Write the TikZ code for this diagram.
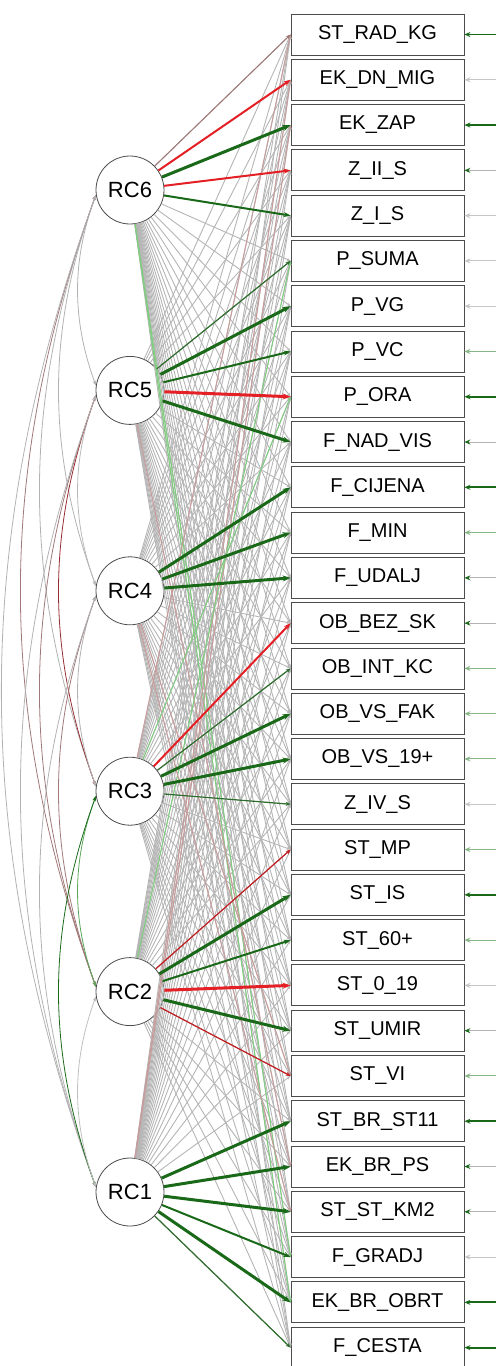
\documentclass[tikz,border=0pt]{standalone}
\usepackage{fontspec}
\setmainfont{Liberation Sans}
\usetikzlibrary{arrows.meta}

\definecolor{ldgreen}{RGB}{25,105,25}
\definecolor{ldred}{RGB}{228,32,38}
\definecolor{covbrown}{RGB}{160,120,120}
\definecolor{covred}{RGB}{150,45,50}

\tikzset{
  fac/.style={circle, draw=gray!60!black, fill=white, line width=0.8pt,
    minimum size=68pt, inner sep=0pt, font=\fontsize{22}{24}\selectfont},
  man/.style={rectangle, draw=gray!60!black, fill=white, line width=0.8pt,
    minimum width=173pt, minimum height=41pt, inner sep=0pt,
    font=\fontsize{20}{24}\selectfont},
  ld/.style={draw=gray!58, line width=0.9pt, -{Stealth[length=4pt,width=3pt]}},
  ltgreen/.style={draw=green!45!gray!70, line width=1pt, -{Stealth[length=4pt,width=3pt]}},
  ltred/.style={draw=red!30!gray!60, line width=1pt, -{Stealth[length=4pt,width=3pt]}},
  brthin/.style={draw=covbrown, line width=1pt, -{Stealth[length=5pt,width=4pt]}},
  gthick/.style={draw=ldgreen, line width=3pt, -{Stealth[length=8pt,width=6pt]}},
  gmid/.style={draw=ldgreen, line width=2pt, -{Stealth[length=7pt,width=5pt]}},
  gthin/.style={draw=ldgreen!80!gray, line width=1.2pt, -{Stealth[length=5pt,width=4pt]}},
  rthick/.style={draw=ldred, line width=3pt, -{Stealth[length=8pt,width=6pt]}},
  rmid/.style={draw=ldred, line width=2pt, -{Stealth[length=7pt,width=5pt]}},
  rthin/.style={draw=ldred!85!black, line width=1.2pt, -{Stealth[length=5pt,width=4pt]}},
  cov/.style={line width=0.8pt, {Stealth[length=5pt,width=3.5pt]}-{Stealth[length=5pt,width=3.5pt]}},
  rs/.style={draw=ldgreen, line width=1.8pt, -{Stealth[length=6pt,width=5pt]}},
  rm/.style={draw=gray!60, line width=1pt, -{Stealth[length=6pt,width=5pt,color=ldgreen]}},
  rl/.style={draw=green!25!gray!75, line width=1pt, -{Stealth[length=6pt,width=5pt]}},
  rw/.style={draw=gray!45, line width=1pt, -{Stealth[open,length=6pt,width=5pt]}}
}

\begin{document}
\begin{tikzpicture}[x=1pt,y=-1pt]
\useasboundingbox (0,0) rectangle (496,1366);

\foreach \lab [count=\i] in {ST\_RAD\_KG, EK\_DN\_MIG, EK\_ZAP, Z\_II\_S, Z\_I\_S,
    P\_SUMA, P\_VG, P\_VC, P\_ORA, F\_NAD\_VIS, F\_CIJENA, F\_MIN, F\_UDALJ,
    OB\_BEZ\_SK, OB\_INT\_KC, OB\_VS\_FAK, OB\_VS\_19+, Z\_IV\_S, ST\_MP, ST\_IS,
    ST\_60+, ST\_0\_19, ST\_UMIR, ST\_VI, ST\_BR\_ST11, EK\_BR\_PS, ST\_ST\_KM2,
    F\_GRADJ, EK\_BR\_OBRT, F\_CESTA}{
  \pgfmathsetmacro\yy{34.5+45.28*(\i-1)}
  \node[man] (v\i) at (377.5,\yy) {\lab};
  \coordinate (e\i) at (496,\yy);
}

\foreach \k in {1,...,6}{
  \pgfmathsetmacro\yy{190+200.4*(6-\k)}
  \node[fac] (rc\k) at (130,\yy) {RC\k};
}

% all loadings
\foreach \f in {1,...,6}
  \foreach \v in {1,...,30}
    \draw[ld] (rc\f) -- (v\v.west);

\foreach \f/\v/\s in {6/28/ltgreen, 6/29/ltgreen, 1/2/ltred, 1/3/ltred,
    5/26/ltred, 4/24/ltred, 3/1/ltred, 2/6/ltgreen, 4/27/ltred, 3/9/ltgreen}
  \draw[\s] (rc\f) -- (v\v.west);

% salient loadings
\foreach \f/\v/\s in {6/1/brthin, 6/2/rmid, 6/3/gthick, 6/4/rmid, 6/5/gmid,
    5/6/gthin, 5/7/gthick, 5/8/gmid, 5/9/rthick, 5/10/gthick,
    4/11/gthick, 4/12/gthick, 4/13/gthick,
    3/14/rmid, 3/15/gthin, 3/16/gthick, 3/17/gthick, 3/18/gthin,
    2/19/rthin, 2/20/gthick, 2/21/gmid, 2/22/rthick, 2/23/gthick, 2/24/rthin,
    1/25/gthick, 1/26/gthick, 1/27/gthick, 1/28/gmid, 1/29/gthick, 1/30/gthin}
  \draw[\s] (rc\f) -- (v\v.west);

% factor covariances
\foreach \a/\b/\c in {6/5/gray!60, 6/4/gray!60, 6/3/gray!60, 6/2/covbrown,
    6/1/gray!60, 5/4/gray!55, 5/3/covred, 5/2/covbrown, 5/1/gray!60,
    4/3/gray!60, 4/2/covbrown, 4/1/gray!60, 3/2/green!30!gray, 3/1/ldgreen,
    2/1/gray!50}
  \draw[cov, draw=\c] (rc\a.188) to[out=250, in=110, looseness=0.95] (rc\b.172);

% residuals
\foreach \i/\s in {1/rs, 2/rw, 3/rs, 4/rm, 5/rw, 6/rw, 7/rw, 8/rl, 9/rs, 10/rm,
    11/rs, 12/rl, 13/rm, 14/rm, 15/rl, 16/rl, 17/rl, 18/rw, 19/rl, 20/rs,
    21/rl, 22/rw, 23/rm, 24/rl, 25/rs, 26/rm, 27/rm, 28/rw, 29/rs, 30/rs}
  \draw[\s] (e\i) -- (v\i.east);
\end{tikzpicture}
\end{document}
